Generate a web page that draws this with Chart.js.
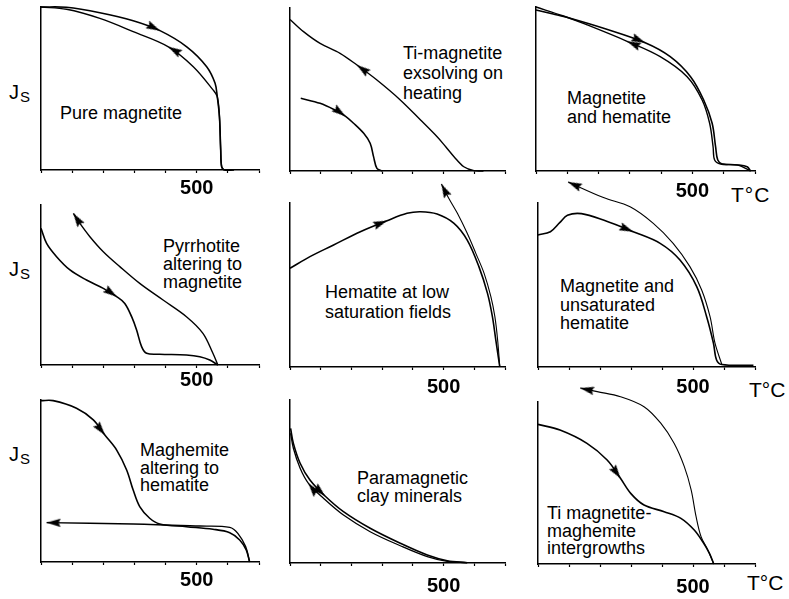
<!DOCTYPE html>
<html>
<head>
<meta charset="utf-8">
<script src="https://cdn.jsdelivr.net/npm/chart.js@4.4.1/dist/chart.umd.min.js"></script>
<style>
  body { margin: 0; background: #fff; }
  #wrap { position: relative; width: 789px; height: 599px; overflow: hidden;
          font-family: "Liberation Sans", Arial, sans-serif; color: #000; }
  canvas { position: absolute; left: 0; top: 0; }
  .cap { position: absolute; font-size: 18px; white-space: nowrap; }
  .js { position: absolute; left: 9px; font-size: 20px; line-height: 20px; }
  .js span { font-size: 15px; position: relative; top: 3px; margin-left: 1px; }
  .tc { position: absolute; font-size: 21px; line-height: 22px; }
</style>
</head>
<body>
<div id="wrap">
  <div class="js" style="top:82px">J<span>S</span></div>
  <div class="js" style="top:259px">J<span>S</span></div>
  <div class="js" style="top:444px">J<span>S</span></div>
  <div class="tc" style="left:731px;top:184px;letter-spacing:1px">T°C</div>
  <div class="tc" style="left:749px;top:379px">T°C</div>
  <div class="tc" style="left:747px;top:572px">T°C</div>

  <div class="cap" style="left:60px;top:104px;line-height:18.5px">Pure magnetite</div>
  <div class="cap" style="left:403px;top:43px;line-height:20px">Ti-magnetite<br>exsolving on<br>heating</div>
  <div class="cap" style="left:567px;top:89px;line-height:18.5px">Magnetite<br>and hematite</div>
  <div class="cap" style="left:163px;top:237px;line-height:18px">Pyrrhotite<br>altering to<br>magnetite</div>
  <div class="cap" style="left:325px;top:282px;line-height:20px">Hematite at low<br>saturation fields</div>
  <div class="cap" style="left:560px;top:277px;line-height:18.5px">Magnetite and<br>unsaturated<br>hematite</div>
  <div class="cap" style="left:140px;top:442px;line-height:17.5px">Maghemite<br>altering to<br>hematite</div>
  <div class="cap" style="left:357px;top:469px;line-height:18px">Paramagnetic<br>clay minerals</div>
  <div class="cap" style="left:547px;top:505px;line-height:17.5px">Ti magnetite-<br>maghemite<br>intergrowths</div>
</div>
<script>
// temperature ticks and the one labelled tick
const tempTicks = [0, 100, 200, 300, 400, 500, 600, 700];
const labelledTemp = 500;

// Js (relative, 100 = top of axis) against T (°C); heating and cooling runs
const p1HeatT = [0, 82, 189, 296, 382, 468, 532, 559, 566, 573, 577, 580, 588, 620];
const p1HeatJ = [100, 99.8, 96.5, 91.6, 85.5, 75.6, 63.4, 53.2, 45, 32.7, 12.3, 2, 0, 0];
const p1CoolT = [588, 580, 577, 573, 566, 553, 489, 409, 296, 189, 82, 0];
const p1CoolJ = [0, 2, 12.3, 32.7, 45, 49, 63.4, 75.6, 84.9, 93, 98.6, 100];

const p2HeatT = [35, 98, 150, 180, 207, 240, 261, 272, 283, 300];
const p2HeatJ = [44.6, 41.5, 37, 33.7, 29.3, 23.1, 17, 8.8, 1.6, 0];
const p2CoolT = [630, 599, 566, 534, 507, 479, 425, 359, 283, 218, 163, 98, 44, 0];
const p2CoolJ = [0, 0.2, 2.6, 8.8, 14.9, 21, 31.3, 43.6, 55.8, 65, 72.2, 78.3, 85.5, 93];

const p3HeatT = [0, 55, 109, 216, 349, 429, 494, 536, 563, 574, 581, 595, 643, 675, 686];
const p3HeatJ = [98.2, 95.7, 93.1, 87, 78.2, 69.7, 57.5, 43.3, 29.1, 14.8, 6.7, 4.3, 3.7, 2.6, 0];
const p3CoolT = [686, 643, 590, 571, 566, 555, 531, 483, 397, 291, 162, 88, 0];
const p3CoolJ = [0, 3.7, 4.3, 6.7, 14.8, 29.1, 43.3, 57.5, 69.7, 79.1, 89.2, 94.5, 100];

const p4HeatT = [0, 18, 50, 93, 146, 200, 243, 269, 291, 307, 323, 339, 381, 467, 510, 542, 568];
const p4HeatJ = [85.4, 76, 67.7, 59.4, 53.1, 47.9, 42.7, 38.5, 30.2, 21.9, 11.5, 7.3, 6.7, 6.25, 5.2, 3.1, 0];
const p4CoolT = [568, 552, 520, 467, 392, 317, 253, 200, 157, 125, 104];
const p4CoolJ = [0, 7.3, 19.8, 30.2, 40.6, 51, 61.5, 70.8, 80.2, 88.5, 94.8];

const p5HeatT = [0, 65, 142, 229, 316, 381, 425, 479, 534, 577, 615, 643, 659, 670, 683];
const p5HeatJ = [60.2, 67.3, 74.4, 82.5, 89.2, 93.7, 94.7, 93.3, 87.6, 77.4, 61.2, 44.9, 30.7, 16.5, 0];
const p5CoolT = [683, 676, 667, 654, 632, 605, 577, 545, 515, 493];
const p5CoolJ = [0, 16.5, 30.7, 42.9, 57.1, 69.3, 81.5, 93.7, 103.5, 111.6];

const p6HeatT = [0, 40, 70, 95, 140, 211, 307, 394, 458, 512, 544, 566, 576, 593, 695];
const p6HeatJ = [80.5, 82.5, 88, 92.5, 93.5, 89.6, 82.5, 75.4, 65.2, 49, 30.7, 14.5, 4.3, 1.5, 1];
const p6CoolT = [593, 571, 555, 528, 490, 436, 372, 297, 211, 97];
const p6CoolJ = [1.5, 14.5, 30.7, 47, 61.2, 75.4, 87.6, 97.7, 103.3, 112.8];

const p7HeatT = [0, 39, 114, 168, 205, 243, 275, 296, 317, 349, 381, 467, 552, 606, 638, 659, 670];
const p7HeatJ = [99.6, 99.6, 94.9, 87.7, 78.4, 69.1, 56.8, 44.4, 34.2, 27, 23.5, 21.8, 20.2, 18.1, 13.6, 7.4, 0];
const p7CoolT = [670, 657, 632, 606, 510, 296, 18];
const p7CoolJ = [0, 9.5, 17.7, 21.4, 22.2, 23.5, 24.3];

const p8HeatT = [2, 11, 33, 65, 114, 174, 261, 359, 447, 512, 577];
const p8HeatJ = [82.6, 73.4, 61.2, 50.9, 41.1, 31.5, 21.3, 12.1, 4.9, 1.4, 0.2];
const p8CoolT = [577, 512, 447, 359, 261, 174, 109, 60, 33, 11, 2];
const p8CoolJ = [0.2, 1, 3.9, 10.6, 19.2, 29.4, 39.7, 48.9, 58.1, 70.4, 79.6];

const p9HeatT = [0, 71, 158, 223, 266, 299, 342, 407, 461, 504, 531, 553, 567];
const p9HeatJ = [86.2, 82.7, 74.5, 64.2, 52.9, 43.6, 36.4, 32.3, 28.2, 21, 13.8, 6.6, 0];
const p9CoolT = [567, 548, 526, 510, 494, 472, 439, 396, 342, 266, 191, 136];
const p9CoolJ = [0, 8.6, 16.9, 29.2, 45.7, 60.1, 74.5, 86.9, 97.1, 103.3, 106.4, 108.6];

// plot boxes on the page: left, top, right, bottom
const panels = [
  { box: [41, 7, 259, 170],   pad: 3,   label: true,  heat: [p1HeatT, p1HeatJ, 4], cool: [p1CoolT, p1CoolJ, 7],  coolW: 1.4 },
  { box: [290, 8, 505, 171],  pad: 3,   label: false, heat: [p2HeatT, p2HeatJ, 3], cool: [p2CoolT, p2CoolJ, 9],  coolW: 1.4 },
  { box: [536, 7, 755, 171],  pad: 5.3, label: true,  heat: [p3HeatT, p3HeatJ, 4], cool: [p3CoolT, p3CoolJ, 9],  coolW: 1.4 },
  { box: [41, 205, 259, 365], pad: 0,   label: true,  heat: [p4HeatT, p4HeatJ, 6], cool: [p4CoolT, p4CoolJ, 10], coolW: 1.4 },
  { box: [290, 203, 505, 367], pad: 5.3, label: true, heat: [p5HeatT, p5HeatJ, 4], cool: [p5CoolT, p5CoolJ, 9],  coolW: 1.1 },
  { box: [538, 203, 755, 367], pad: 5.3, label: true, heat: [p6HeatT, p6HeatJ, 6], cool: [p6CoolT, p6CoolJ, 9],  coolW: 1.1 },
  { box: [41, 400, 259, 562], pad: 3,   label: true,  heat: [p7HeatT, p7HeatJ, 4], cool: [p7CoolT, p7CoolJ, 6],  coolW: 1.4 },
  { box: [290, 400, 505, 563], pad: 8.8, label: true, heat: [p8HeatT, p8HeatJ, 4], cool: [p8CoolT, p8CoolJ, 7],  coolW: 1.3 },
  { box: [538, 402, 755, 564], pad: 8.3, label: true, heat: [p9HeatT, p9HeatJ, 4], cool: [p9CoolT, p9CoolJ, 11], coolW: 1.1 }
];

const CANVAS_W = 789, CANVAS_H = 640, AXIS_H = 40;

// narrow arrowhead, tip at the image centre, pointing up
function makeArrow() {
  const c = document.createElement('canvas');
  c.width = 12; c.height = 30;
  const g = c.getContext('2d');
  g.fillStyle = '#000';
  g.beginPath();
  g.moveTo(6, 15);
  g.lineTo(10.2, 29);
  g.lineTo(6, 27);
  g.lineTo(1.8, 29);
  g.closePath();
  g.fill();
  return c;
}
const arrow = makeArrow();

function heading(ctx) {
  const d = ctx.dataset.data, i = ctx.dataIndex;
  const a = d[Math.max(i - 1, 0)], b = d[Math.min(i + 1, d.length - 1)];
  const xs = ctx.chart.scales.x, ys = ctx.chart.scales.y;
  const dx = xs.getPixelForValue(b.x) - xs.getPixelForValue(a.x);
  const dy = ys.getPixelForValue(b.y) - ys.getPixelForValue(a.y);
  return Math.atan2(dy, dx) * 180 / Math.PI + 90;
}

function curve([t, j, arrowAt], width) {
  return {
    data: t.map((v, i) => ({ x: v, y: j[i] })),
    showLine: true,
    borderColor: '#000',
    borderWidth: width,
    tension: 0.35,
    clip: false,
    pointStyle: ctx => ctx.dataIndex === arrowAt ? arrow : 'circle',
    pointRadius: ctx => ctx.dataIndex === arrowAt ? 30 : 0,
    pointRotation: heading
  };
}

const wrap = document.getElementById('wrap');
panels.forEach(p => {
  const cv = document.createElement('canvas');
  cv.width = CANVAS_W; cv.height = CANVAS_H;
  wrap.appendChild(cv);
  const [l, t, r, b] = p.box;
  new Chart(cv, {
    type: 'scatter',
    data: { datasets: [curve(p.heat, 1.6), curve(p.cool, p.coolW)] },
    options: {
      responsive: false,
      animation: false,
      events: [],
      devicePixelRatio: 1,
      layout: { padding: { left: l, top: t, right: CANVAS_W - r, bottom: CANVAS_H - b - AXIS_H } },
      elements: { line: { capBezierPoints: false, borderJoinStyle: 'round' } },
      plugins: { legend: { display: false }, tooltip: { enabled: false } },
      scales: {
        x: {
          type: 'linear', min: tempTicks[0], max: tempTicks[tempTicks.length - 1],
          afterFit: s => { s.height = AXIS_H; },
          afterBuildTicks: s => { s.ticks = tempTicks.map(v => ({ value: v })); },
          ticks: {
            autoSkip: false, maxRotation: 0, padding: p.pad, color: '#000',
            font: { family: 'Liberation Sans', size: 20, weight: 'bold' },
            callback: v => (p.label && v === labelledTemp) ? String(v) : ''
          },
          grid: { display: true, drawOnChartArea: false, drawTicks: true, tickLength: 3, tickColor: '#000', tickWidth: 1.2 },
          border: { display: true, color: '#000', width: 1.5 }
        },
        y: {
          type: 'linear', min: 0, max: 100,
          afterFit: s => { s.width = 0; },
          ticks: { display: false },
          grid: { display: false },
          border: { display: true, color: '#000', width: 1.5 }
        }
      }
    }
  });
});
</script>
</body>
</html>
